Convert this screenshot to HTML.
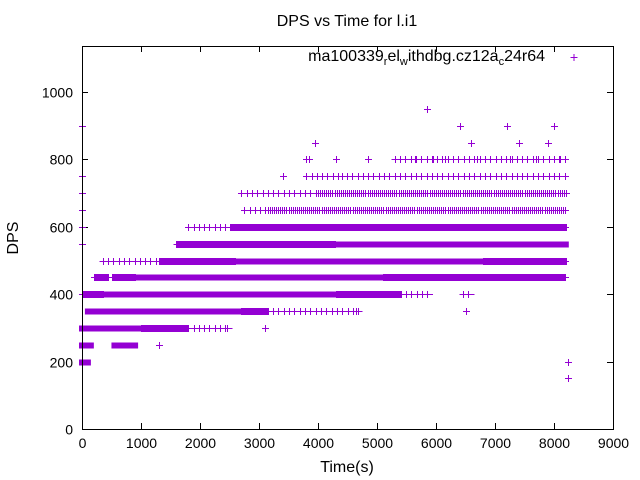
<!DOCTYPE html>
<html><head><meta charset="utf-8"><style>
body{margin:0;background:#fff}
svg{display:block;font-family:"Liberation Sans",sans-serif}
#marks line{shape-rendering:crispEdges}
</style></head><body>
<svg id="chart" width="640" height="480" viewBox="0 0 640 480" xmlns="http://www.w3.org/2000/svg">
<rect width="640" height="480" fill="#fff"/>
<text x="347" y="26" font-size="16" text-anchor="middle">DPS vs Time for l.i1</text>
<text transform="translate(18,238) rotate(-90)" font-size="16" text-anchor="middle">DPS</text>
<text x="347" y="472" font-size="16" text-anchor="middle">Time(s)</text>
<text x="545" y="61" font-size="16" text-anchor="end">ma100339<tspan font-size="11" dy="4">r</tspan><tspan dy="-4">el</tspan><tspan font-size="11" dy="4">w</tspan><tspan dy="-4">ithdbg.cz12a</tspan><tspan font-size="11" dy="4">c</tspan><tspan dy="-4">24r64</tspan></text>
<g stroke="#9400d3" stroke-width="1"><line x1="570.5" y1="57.5" x2="577.5" y2="57.5"/><line x1="574" y1="54" x2="574" y2="61"/></g>
<g id="axes"></g>
<g id="marks"></g>
<rect x="82.5" y="46.5" width="531" height="383" fill="none" stroke="#000" stroke-width="1"/>
</svg>
<script>
const xTicks=[0,1000,2000,3000,4000,5000,6000,7000,8000,9000];
const yTicks=[0,200,400,600,800,1000];
// dense bands: level, start time, end time, density (2 solid,1 dense,3 medium,0 sparse)
const bandLevel=[200,250,250,300,300,300,350,350,350,400,400,400,400,400,450,450,450,450,500,500,500,500,550,550,600,600,650,650,700,700,750,750,800];
const bandStart=[0,0,550,0,1000,1800,100,2700,3150,0,350,4300,5400,6450,200,500,900,5100,350,1300,2600,6800,1600,4300,1800,2500,2750,3150,2700,4000,3800,4400,5300];
const bandEnd=[100,150,900,1000,1800,2500,2700,3150,4700,350,4300,5400,5900,6600,450,900,5100,8200,1300,2600,6800,8200,4300,8200,2500,8200,3150,8200,4000,8200,4400,8200,8200];
const bandDensity=[2,2,2,2,1,0,2,1,0,1,2,1,0,0,1,1,2,1,0,1,2,1,1,2,0,1,0,3,0,3,0,0,0];
// isolated points
const ptTime=[0,0,0,0,0,0,5850,6400,7200,8000,3950,6600,7400,7900,3800,3850,4300,4850,5650,5950,6150,6700,7250,7700,8100,8230,8230,1300,3100,4650,6500,2700,2750,1800,3400,2450,8200];
const ptDps=[900,750,700,650,600,550,950,900,900,900,850,850,850,850,800,800,800,800,800,800,800,800,800,800,800,200,150,250,300,350,350,700,650,600,750,300,700];
const X=t=>82+t*531/9000;
const Y=v=>429-v*0.337;
const NS="http://www.w3.org/2000/svg";
const axes=document.getElementById('axes'),marks=document.getElementById('marks');
function mk(tag,attrs,parent){const e=document.createElementNS(NS,tag);for(const k in attrs)e.setAttribute(k,attrs[k]);parent.appendChild(e);return e;}
xTicks.forEach(t=>{
  const g=mk('g',{},axes);
  
  
  const x=Math.round(X(t))+0.5;
  mk('line',{x1:x,x2:x,y1:429,y2:423,stroke:'#000'},g);
  mk('line',{x1:x,x2:x,y1:46,y2:52,stroke:'#000'},g);
  const tx=mk('text',{x:x,y:448,'font-size':14,'text-anchor':'middle'},g);tx.textContent=t;
});
yTicks.forEach(v=>{
  const g=mk('g',{},axes);
  
  
  const y=Math.round(Y(v))+0.5;
  mk('line',{x1:82,x2:88,y1:y,y2:y,stroke:'#000'},g);
  mk('line',{x1:613,x2:607,y1:y,y2:y,stroke:'#000'},g);
  const tx=mk('text',{x:73,y:y+5,'font-size':14,'text-anchor':'end'},g);tx.textContent=v;
});
const C='#9400d3';
const STEPS={0:90,1:14,3:35};
function plus(t,v,parent){const x=Math.round(X(t))+0.5,y=Math.round(Y(v))+0.5;
  mk('line',{x1:x-3.5,x2:x+3.5,y1:y,y2:y,stroke:C},parent);
  mk('line',{x1:x,x2:x,y1:y-3.5,y2:y+3.5,stroke:C},parent);}
bandLevel.forEach((lv,i)=>{
  const g=mk('g',{},marks);
  
  
  const x0=X(bandStart[i])-3,x1=X(bandEnd[i])+3,y=Math.round(Y(lv))+0.5;
  if(bandDensity[i]===2){mk('rect',{x:x0,y:y-3,width:Math.max(6,x1-x0),height:6,fill:C},g);}
  else{
    mk('line',{x1:x0,x2:x1,y1:y,y2:y,stroke:C},g);
    const step=STEPS[bandDensity[i]];
    for(let t=bandStart[i];t<=bandEnd[i];t+=step){const x=Math.round(X(t))+0.5;mk('line',{x1:x,x2:x,y1:y-3.5,y2:y+3.5,stroke:C},g);}
  }
});
ptTime.forEach((t,i)=>{
  const g=mk('g',{},marks);
  
  
  plus(t,ptDps[i],g);
});
</script>
</body></html>
